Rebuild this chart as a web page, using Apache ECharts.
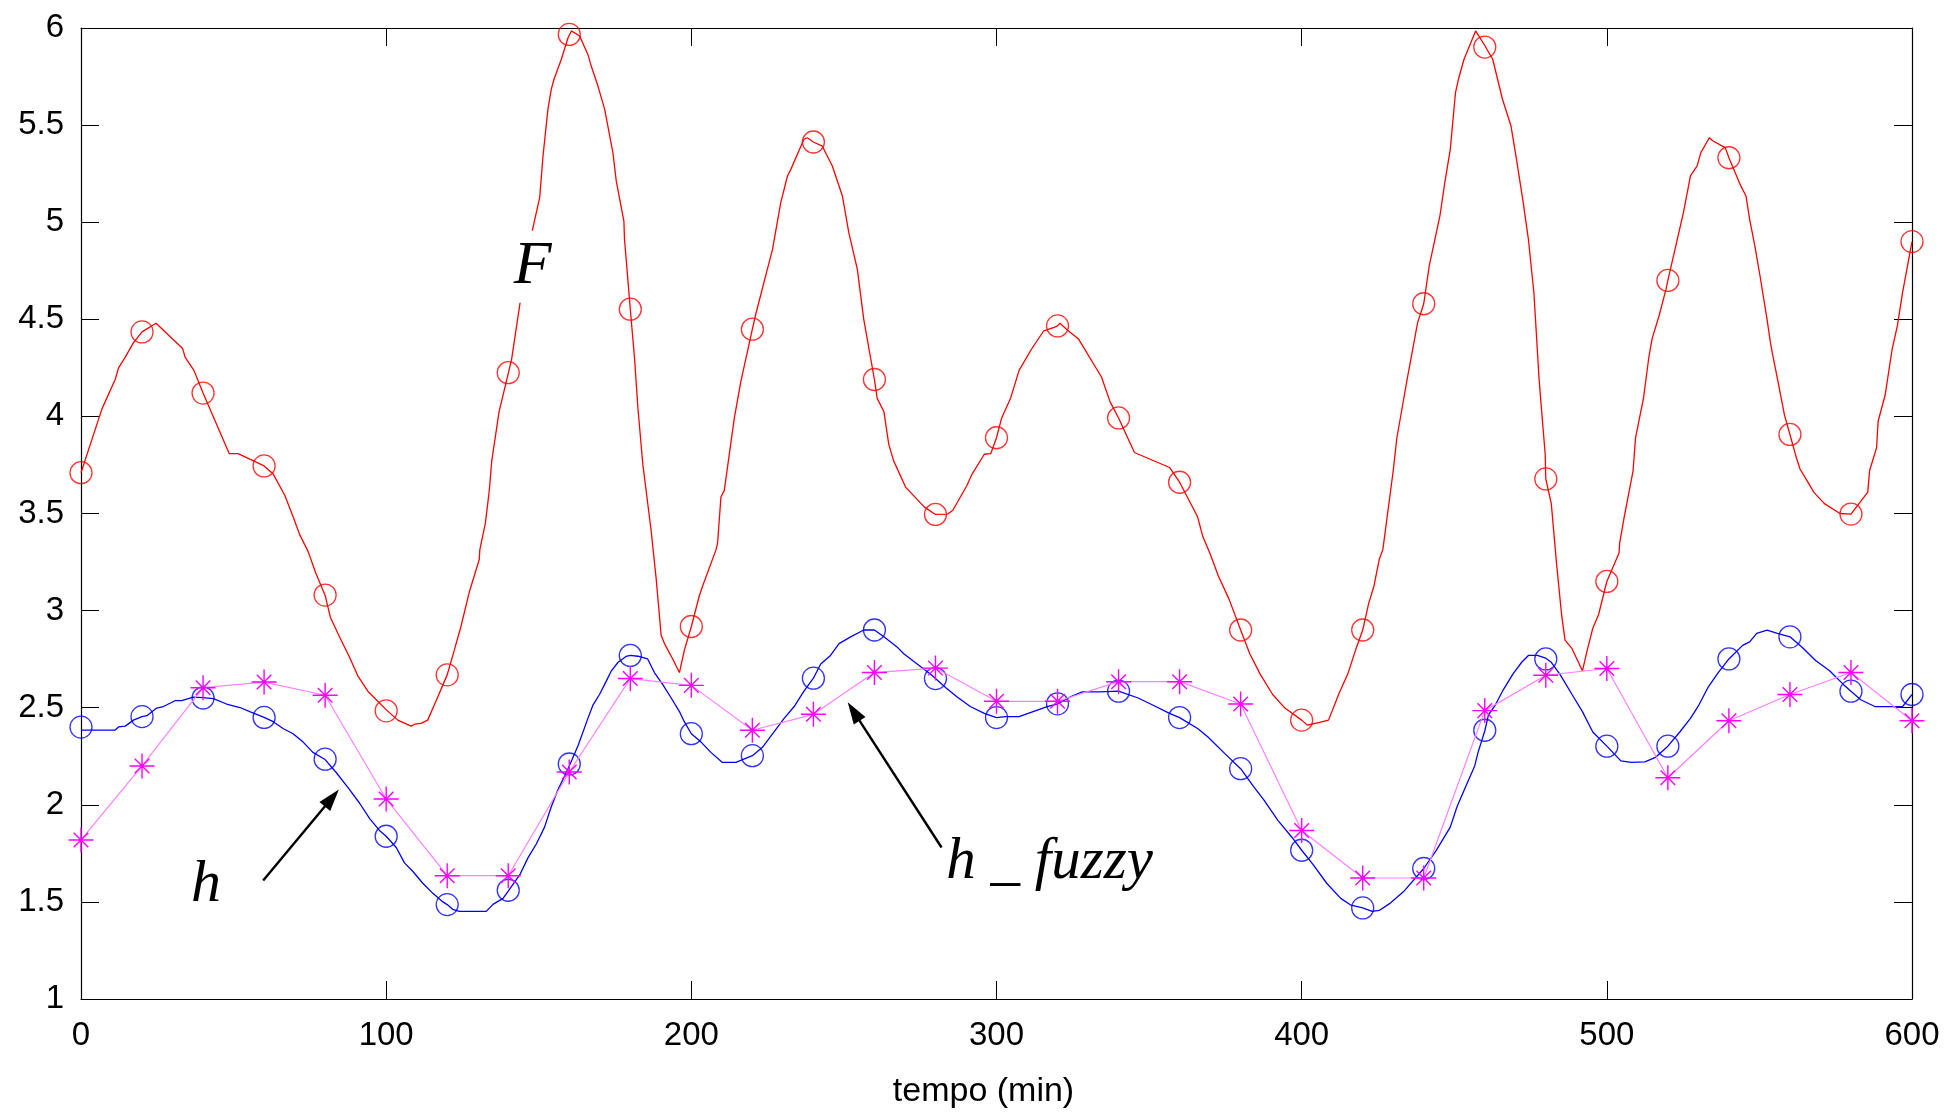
<!DOCTYPE html>
<html>
<head>
<meta charset="utf-8">
<script src="https://cdn.jsdelivr.net/npm/echarts@6/dist/echarts.min.js"></script>
<style>
html,body{margin:0;padding:0;background:#fff;}
#chart{width:1948px;height:1114px;}
</style>
</head>
<body>
<div id="chart"></div>
<script>
// ---- data ----
const markTime = [0,20,40,60,80,100,120,140,160,180,200,220,240,260,280,300,320,340,360,380,400,420,440,460,480,500,520,540,560,580,600];
const fMark = [3.71,4.435,4.12,3.745,3.08,2.484,2.669,4.225,5.967,4.552,2.918,4.449,5.413,4.19,3.495,3.89,4.466,3.992,3.661,2.9,2.436,2.9,4.58,5.902,3.678,3.15,4.7,5.332,3.907,3.497,4.9];
const hMark = [2.40,2.454,2.55,2.45,2.235,1.838,1.486,1.56,2.21,2.769,2.366,2.253,2.652,2.9,2.65,2.449,2.52,2.585,2.449,2.186,1.766,1.469,1.672,2.384,2.751,2.302,2.302,2.751,2.865,2.585,2.568];
const hFuzzy = [1.819,2.2,2.603,2.632,2.564,2.03,1.635,1.635,2.169,2.65,2.615,2.384,2.466,2.681,2.704,2.533,2.533,2.634,2.634,2.519,1.868,1.623,1.623,2.485,2.667,2.702,2.139,2.433,2.568,2.681,2.433];

const fCurve = [[0,3.71],[3.05,3.856],[6.9,4.04],[11.2,4.19],[12.3,4.25],[14.5,4.305],[17.2,4.38],[20,4.435],[24.6,4.48],[33.3,4.35],[34.1,4.305],[37,4.237],[40,4.12],[48.6,3.808],[51.5,3.808],[60,3.745],[63,3.703],[66.8,3.593],[69.5,3.483],[71.7,3.39],[74.4,3.305],[76.9,3.195],[80,3.078],[81.7,2.966],[84.7,2.865],[88,2.76],[90.7,2.664],[94,2.585],[100,2.49],[103.8,2.436],[108.2,2.405],[109.3,2.415],[111.4,2.419],[113.6,2.436],[116.3,2.533],[120,2.669],[122.3,2.795],[124.5,2.918],[127.2,3.093],[130.5,3.263],[130.7,3.314],[132.5,3.449],[133.8,3.619],[134.6,3.771],[137,4.025],[140,4.22],[141.1,4.294],[144.3,4.629],[148.1,4.972],[150.3,5.126],[151.4,5.341],[153,5.581],[154.1,5.684],[155,5.736],[157.4,5.839],[159.6,5.95],[160.7,5.985],[163.4,5.959],[166.1,5.864],[167.2,5.804],[169.4,5.701],[171.6,5.581],[174.3,5.358],[175.4,5.212],[177.9,5.006],[178.1,4.912],[180,4.552],[181.4,4.297],[182.5,4.042],[184.1,3.754],[186.8,3.415],[188.5,3.161],[190.1,2.873],[191.2,2.83],[193.9,2.751],[196.1,2.681],[197.7,2.795],[200,2.918],[202.6,3.075],[203.7,3.127],[208.1,3.314],[208.6,3.347],[209.7,3.585],[210.8,3.619],[214.1,3.992],[216.2,4.178],[220,4.449],[221.1,4.526],[224.9,4.757],[226.6,4.86],[229.3,5.101],[231.5,5.238],[232.6,5.272],[236.9,5.427],[238,5.435],[240,5.413],[242.9,5.392],[246.2,5.289],[249.5,5.135],[251.6,4.946],[254.4,4.757],[256.5,4.5],[260,4.19],[260.9,4.093],[263.1,4.025],[264.7,3.856],[266.3,3.771],[270.2,3.636],[276.3,3.534],[280,3.495],[284,3.497],[285.7,3.517],[290.3,3.644],[292,3.703],[296,3.805],[298.1,3.808],[300,3.89],[301.7,3.992],[304.6,4.093],[307.4,4.237],[311.5,4.347],[315.5,4.441],[318.9,4.458],[320,4.466],[320.8,4.48],[323.5,4.441],[326.9,4.398],[334.4,4.203],[337.2,4.076],[340,3.992],[345.2,3.814],[356.7,3.737],[360,3.661],[365.9,3.483],[367.6,3.381],[369.9,3.297],[372.7,3.178],[376.2,3.059],[380,2.9],[383,2.778],[386.4,2.673],[390.5,2.568],[394.5,2.498],[400,2.436],[401.9,2.41],[405.9,2.424],[408.8,2.436],[412.3,2.576],[415.1,2.673],[418,2.813],[420,2.9],[422,3.04],[423.7,3.127],[425.4,3.263],[426.6,3.314],[428.3,3.517],[430,3.72],[431.2,3.89],[432.9,4.042],[434.6,4.195],[438,4.483],[440,4.58],[441.8,4.775],[445.3,5.032],[446.9,5.204],[448.7,5.375],[450.4,5.667],[451.5,5.744],[453.2,5.839],[457,5.985],[460,5.91],[462.6,5.839],[465.8,5.633],[468.6,5.495],[470.4,5.324],[472.6,5.101],[474.3,4.912],[476.1,4.637],[477.8,4.191],[478.3,4.093],[479.8,3.805],[480,3.678],[481.8,3.551],[483.5,3.246],[485.2,2.975],[486.3,2.848],[488.6,2.804],[492,2.69],[493.7,2.804],[495.4,2.909],[497.3,2.98],[500,3.15],[504,3.297],[504.2,3.347],[505.7,3.483],[508.6,3.72],[509.4,3.89],[512,4.093],[513.7,4.297],[514.8,4.398],[517.1,4.517],[519.4,4.655],[520,4.7],[525.1,5.049],[527.4,5.238],[529.6,5.29],[530.8,5.358],[533.6,5.435],[534.8,5.418],[538.8,5.384],[540,5.332],[543.9,5.187],[545.6,5.135],[546.8,5.015],[548.5,4.878],[550.2,4.723],[552.5,4.5],[553.6,4.381],[554.2,4.328],[555.9,4.195],[558.2,4.008],[560,3.907],[562.1,3.788],[563.3,3.729],[565.6,3.669],[567.8,3.61],[571.3,3.551],[576.4,3.5],[580,3.497],[585.5,3.61],[586.1,3.72],[588.4,3.839],[588.9,3.975],[591.2,4.11],[593.5,4.347],[595.2,4.466],[596.9,4.637],[600,4.9]];

const hCurve = [[0,2.385],[11.2,2.385],[12.3,2.401],[14.5,2.405],[17.2,2.436],[20,2.454],[21.6,2.459],[24.8,2.498],[27,2.506],[30.8,2.536],[33,2.536],[36.8,2.554],[40,2.552],[43.4,2.547],[47.7,2.519],[52.1,2.501],[55.3,2.48],[60,2.45],[63,2.428],[66.2,2.393],[69.5,2.366],[72.8,2.323],[76,2.27],[80,2.233],[83.7,2.165],[88,2.078],[91.3,2.008],[94.6,1.929],[97.8,1.868],[100,1.838],[103.3,1.78],[106,1.701],[108.7,1.658],[112,1.596],[115.3,1.544],[118.6,1.5],[120,1.486],[121.8,1.462],[124,1.451],[132.8,1.451],[135,1.487],[138.3,1.518],[140,1.556],[143.8,1.64],[146.5,1.728],[149.2,1.798],[151.9,1.885],[154.1,1.99],[156.3,2.078],[158.5,2.148],[160,2.2],[162.9,2.305],[166.1,2.445],[167.8,2.515],[169.9,2.568],[171.6,2.62],[173.8,2.69],[176,2.734],[178.6,2.764],[180,2.769],[182.5,2.765],[185.7,2.751],[187.9,2.681],[190.6,2.62],[193.4,2.55],[196.1,2.48],[197.7,2.428],[200,2.366],[203.2,2.323],[206.4,2.27],[210.2,2.218],[214.6,2.218],[220,2.253],[223.3,2.296],[227.1,2.375],[230.4,2.445],[233.7,2.506],[236.9,2.585],[240,2.652],[242.4,2.725],[245.6,2.769],[248.4,2.83],[252.2,2.865],[256.5,2.9],[260,2.9],[263.1,2.865],[267.4,2.813],[269.6,2.778],[274,2.725],[278.3,2.673],[280,2.65],[283.4,2.603],[286.8,2.559],[291.4,2.506],[296,2.471],[300,2.449],[302.9,2.454],[307.4,2.454],[312,2.48],[316.6,2.506],[320,2.52],[324.6,2.559],[328.1,2.582],[333.8,2.582],[340,2.585],[346.4,2.55],[351,2.515],[356.7,2.471],[360,2.449],[365.9,2.393],[369.3,2.349],[375,2.261],[380,2.186],[384.2,2.095],[387.6,2.025],[392.2,1.92],[396.8,1.833],[400,1.766],[403.7,1.693],[408.2,1.596],[412.8,1.518],[416.2,1.483],[420,1.469],[423.1,1.451],[425.4,1.456],[428.8,1.491],[433.4,1.553],[440,1.672],[444,1.763],[448.7,1.885],[450.9,1.99],[453.8,2.095],[456.7,2.2],[457.8,2.27],[460,2.38],[461.2,2.463],[463.5,2.515],[465.8,2.585],[469.2,2.673],[472.1,2.734],[474.3,2.769],[477.2,2.769],[480,2.755],[481.8,2.734],[484.6,2.673],[488.6,2.568],[492,2.48],[495.4,2.375],[500,2.302],[504.6,2.226],[508,2.218],[512.5,2.221],[515.9,2.244],[520,2.302],[523.9,2.375],[527.4,2.445],[530.2,2.515],[533.1,2.603],[536.5,2.681],[540,2.751],[544.5,2.821],[546.8,2.839],[549.1,2.883],[552.5,2.9],[555.9,2.883],[560,2.865],[563.9,2.813],[568.4,2.743],[573,2.69],[577.5,2.62],[580,2.585],[583.2,2.541],[587.8,2.506],[596.9,2.506],[600,2.568]];

const xTicks = {min: 0, max: 600, step: 100};
const yTicks = {min: 1, max: 6, step: 0.5};
const xTitle = 'tempo (min)';

// annotations (data coordinates)
const labelF = {text: 'F', at: [148, 4.77]};
const labelH = {text: 'h', at: [41, 1.585]};
const labelHF = {text: 'h _ fuzzy', at: [283.4, 1.705]};
const arrowH = {from: [59.7, 1.61], to: [82.2, 2.035]};
const arrowHF = {from: [282.0, 1.78], to: [253.2, 2.48]};

// ---- chart ----
const chart = echarts.init(document.getElementById('chart'), null, {renderer: 'canvas'});
const pair = (xs, ys) => xs.map((x, i) => [x, ys[i]]);
const sansFont = 'Liberation Sans, Arial, sans-serif';
const serifFont = 'Liberation Serif, Times New Roman, serif';
const star = 'path://M0,-12L0,12M-12,0L12,0M-7,-7L7,7M-7,7L7,-7';

function xAx(pos, labels) {
  return {
    type: 'value', position: pos, min: xTicks.min, max: xTicks.max, interval: xTicks.step,
    axisLine: {show: true, onZero: false, lineStyle: {color: '#000', width: 1.2}},
    axisTick: {show: true, inside: true, length: 18, lineStyle: {color: '#000', width: 1}},
    axisLabel: {show: labels, fontSize: 33, color: '#000', fontFamily: sansFont, margin: 20},
    splitLine: {show: false},
    name: labels ? xTitle : '', nameLocation: 'middle', nameGap: 76,
    nameTextStyle: {fontSize: 34, color: '#000', fontFamily: sansFont, padding: [0, 26, 0, 0]}
  };
}
function yAx(pos, labels) {
  return {
    type: 'value', position: pos, min: yTicks.min, max: yTicks.max, interval: yTicks.step,
    axisLine: {show: true, onZero: false, lineStyle: {color: '#000', width: 1.2}},
    axisTick: {show: true, inside: true, length: 18, lineStyle: {color: '#000', width: 1}},
    axisLabel: {show: labels, fontSize: 33, color: '#000', fontFamily: sansFont, margin: 17},
    splitLine: {show: false}
  };
}

const textLabel = (extra) => Object.assign({
  show: true, fontFamily: serifFont, fontStyle: 'italic', fontSize: 58, color: '#000'
}, extra);

const option = {
  animation: false,
  backgroundColor: '#fff',
  grid: {left: 81, right: 36, top: 28, bottom: 111, containLabel: false},
  xAxis: [xAx('bottom', true), xAx('top', false)],
  yAxis: [yAx('left', true), yAx('right', false)],
  series: [
    {
      name: 'F', type: 'line', data: fCurve, showSymbol: false, smooth: false,
      lineStyle: {color: '#ff0000', width: 1.3}, itemStyle: {color: '#ff0000'}, z: 2
    },
    {
      name: 'F markers', type: 'scatter', data: pair(markTime, fMark), symbol: 'circle', symbolSize: 22,
      itemStyle: {color: 'rgba(0,0,0,0)', borderColor: '#ff0000', borderWidth: 1.3}, clip: false, z: 3
    },
    {
      name: 'h', type: 'line', data: hCurve, showSymbol: false,
      lineStyle: {color: '#0000ff', width: 1.3}, itemStyle: {color: '#0000ff'}, z: 2
    },
    {
      name: 'h markers', type: 'scatter', data: pair(markTime, hMark), symbol: 'circle', symbolSize: 22,
      itemStyle: {color: 'rgba(0,0,0,0)', borderColor: '#0000ff', borderWidth: 1.3}, clip: false, z: 3
    },
    {
      name: 'h_fuzzy', type: 'line', data: pair(markTime, hFuzzy), clip: false,
      symbol: star, symbolSize: 25, showSymbol: true, showAllSymbol: true,
      lineStyle: {color: '#ff80ff', width: 1.2},
      itemStyle: {color: '#ff00ff', borderColor: '#ff00ff', borderWidth: 1.4},
      z: 4,
      markLine: {
        silent: true, animation: false,
        symbol: ['none', 'triangle'], symbolSize: [14, 22],
        lineStyle: {color: '#000', width: 2.4, type: 'solid'},
        itemStyle: {color: '#000'},
        label: {show: false},
        data: [
          [{coord: arrowH.from}, {coord: arrowH.to}],
          [{coord: arrowHF.from}, {coord: arrowHF.to}]
        ]
      },
      markPoint: {
        silent: true, animation: false,
        symbol: 'circle', symbolSize: 1, itemStyle: {color: 'rgba(0,0,0,0)'},
        data: [
          {coord: labelF.at, label: textLabel({formatter: labelF.text, position: 'inside', fontSize: 62, backgroundColor: '#fff', padding: [8, 3, 2, 3]})},
          {coord: labelH.at, label: textLabel({formatter: labelH.text, position: 'inside', fontSize: 60})},
          {coord: labelHF.at, label: textLabel({formatter: labelHF.text, position: 'right', distance: 0, fontSize: 59})}
        ]
      }
    }
  ]
};
chart.setOption(option);
</script>
</body>
</html>
